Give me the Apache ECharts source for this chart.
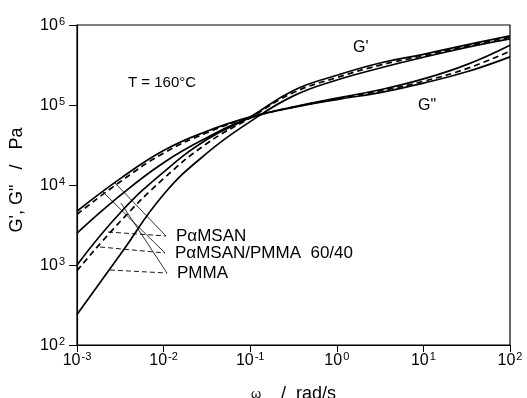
<!DOCTYPE html>
<html>
<head>
<meta charset="utf-8">
<script src="https://cdn.jsdelivr.net/npm/echarts@6/dist/echarts.min.js"></script>
<style>
html,body{margin:0;padding:0;background:#fff;}
#c{width:527px;height:398px;}
</style>
</head>
<body>
<div id="c"></div>
<script>
// angular frequency (rad/s), half-decade steps
const omega = [0.001, 0.00316, 0.01, 0.0316, 0.1, 0.316, 1, 3.16, 10, 31.6, 100];
// G'' (loss modulus), Pa
const gpp_PaMSAN = [4700, 12000, 27000, 47000, 71000, 95000, 122000, 155000, 212000, 320000, 560000];
const gpp_Blend  = [4300, 11000, 25000, 45000, 70000, 94000, 120000, 150000, 198000, 285000, 470000];
const gpp_PMMA   = [2500, 7400, 19000, 39000, 69000, 93000, 117000, 143000, 188000, 260000, 400000];
// G' (storage modulus), Pa
const gp_PaMSAN  = [1000, 4500, 14500, 37000, 71000, 152000, 235000, 335000, 430000, 565000, 730000];
const gp_Blend   = [850, 3500, 12000, 33000, 69000, 143000, 220000, 315000, 412000, 545000, 700000];
const gp_PMMA    = [240, 1350, 7600, 25000, 62000, 130000, 205000, 290000, 395000, 525000, 670000];

// label leader lines: label anchor points and curve ends (omega, G)
const leaderLabelPts = [[0.01066, 2304], [0.01038, 1413], [0.01094, 794]];
const leaderSolidEnds = [[0.002747, 10593], [0.001995, 8176], [0.00322, 5957]];
const leaderDashEnds  = [[0.00228, 2585], [0.001844, 1679], [0.0024, 866]];

const labelNames = ['P\u03b1MSAN', 'P\u03b1MSAN/PMMA  60/40', 'PMMA'];

function pairs(y){ return omega.map((w,i)=>[w, y[i]]); }

const FONT = 'Liberation Sans, Arial, sans-serif';

function expLabel(v){
  const e = Math.round(Math.log10(v));
  return '{b|10}{s|' + e + '}';
}
const rich = {
  b: {fontSize: 16, fontFamily: FONT, color: '#000', lineHeight: 18, verticalAlign: 'bottom'},
  s: {fontSize: 11, fontFamily: FONT, color: '#000', verticalAlign: 'top', padding: [0,0,6,1]}
};

function mkLine(name, y, dashed){
  return {
    name: name, type: 'line', data: pairs(y), smooth: 0.45, showSymbol: false,
    lineStyle: {color: '#000', width: 1.7, type: dashed ? [6,4] : 'solid'},
    silent: true, z: 3
  };
}

const chart = echarts.init(document.getElementById('c'), null, {renderer: 'canvas'});

const series = [
  mkLine("G'' PaMSAN", gpp_PaMSAN, false),
  mkLine("G'' blend", gpp_Blend, true),
  mkLine("G'' PMMA", gpp_PMMA, false),
  mkLine("G' PaMSAN", gp_PaMSAN, false),
  mkLine("G' blend", gp_Blend, true),
  mkLine("G' PMMA", gp_PMMA, false)
];

// leader lines as markLines in data coordinates
series.push({
  type: 'line', data: [], silent: true,
  markLine: {
    symbol: ['none','none'], silent: true, animation: false,
    label: {show: false},
    emphasis: {disabled: true},
    data: leaderLabelPts.map((p,i)=>[{coord: leaderSolidEnds[i], lineStyle:{type:'solid', color:'#000', width:0.8}}, {coord: p}])
      .concat(leaderLabelPts.map((p,i)=>[{coord: leaderDashEnds[i], lineStyle:{type:[5,3], color:'#000', width:0.9}}, {coord: p}]))
  }
});

const baseGraphic = [
  {type: 'text', left: 128, top: 75, style: {text: 'T = 160\u00b0C', fontSize: 15, fontFamily: FONT, fill: '#000'}},
  {type: 'text', left: 353, top: 40, style: {text: "G'", fontSize: 16, fontFamily: FONT, fill: '#000'}},
  {type: 'text', left: 418, top: 98, style: {text: 'G"', fontSize: 16, fontFamily: FONT, fill: '#000'}},
  {type: 'text', x: 17, y: 180, rotation: Math.PI/2,
   style: {text: "G', G\"   /   Pa", fontSize: 18, fontFamily: FONT, fill: '#000', align: 'center', verticalAlign: 'middle'}}
];

chart.setOption({
  animation: false,
  backgroundColor: '#fff',
  grid: {left: 77, right: 17, top: 25, bottom: 53, containLabel: false, outerBoundsMode: 'none',
         show: true, borderColor: '#000', borderWidth: 1.2, backgroundColor: 'transparent'},
  xAxis: {
    type: 'log', logBase: 10, min: 0.001, max: 100, splitNumber: 5,
    name: '{w|\u03c9}    /  rad/s', nameLocation: 'middle', nameGap: 40,
    nameTextStyle: {fontSize: 18, fontFamily: FONT, color: '#000', rich: {w: {fontSize: 13, fontFamily: FONT, color: '#000'}}},
    axisLine: {lineStyle: {color: '#000', width: 1.2}},
    axisTick: {show: true, inside: false, length: 7, lineStyle: {color: '#000', width: 1}},
    minorTick: {show: false},
    splitLine: {show: false},
    axisLabel: {formatter: expLabel, rich: rich, margin: 6}
  },
  yAxis: {
    type: 'log', logBase: 10, min: 100, max: 1000000, splitNumber: 4,
    axisLine: {lineStyle: {color: '#000', width: 1.2}},
    axisTick: {show: true, inside: false, length: 8, lineStyle: {color: '#000', width: 1}},
    minorTick: {show: false},
    splitLine: {show: false},
    axisLabel: {formatter: expLabel, rich: rich, margin: 12}
  },
  graphic: baseGraphic,
  series: series
});

// material labels placed at the leader anchor points (converted through the axes)
const labelGraphic = leaderLabelPts.map((p,i)=>{
  const px = chart.convertToPixel({gridIndex: 0}, p);
  return {type: 'text', x: px[0] + 10, y: px[1],
    style: {text: labelNames[i], fontSize: 17, fontFamily: FONT, fill: '#000', verticalAlign: 'middle', align: 'left'}};
});
chart.setOption({graphic: baseGraphic.concat(labelGraphic)});
</script>
</body>
</html>
